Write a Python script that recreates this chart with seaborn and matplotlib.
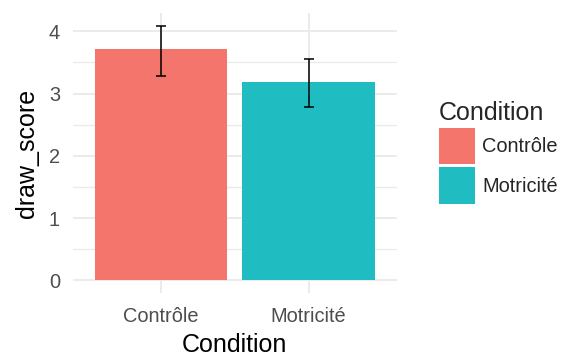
import matplotlib
matplotlib.use("Agg")
import matplotlib.pyplot as plt
from matplotlib.patches import Patch
from matplotlib.ticker import MultipleLocator
import seaborn as sns
import pandas as pd

# Mean drawing score per condition, with the bounds of the error bars
conditions = ["Contrôle", "Motricité"]
mean_score = [3.71, 3.18]
err_low = [3.28, 2.78]
err_high = [4.09, 3.56]
colors = ["#F3756C", "#1FBDC1"]

df = pd.DataFrame({"Condition": conditions, "draw_score": mean_score})

sns.set_theme(style="white")
plt.rcParams["font.family"] = ["Liberation Sans", "DejaVu Sans"]

fig = plt.figure(figsize=(5.65, 3.58), dpi=100)
ax = fig.add_axes([72.5 / 565, 65 / 358, 324.5 / 565, 280 / 358])

sns.barplot(data=df, x="Condition", y="draw_score", hue="Condition",
            palette=colors, width=0.9, errorbar=None, legend=False,
            linewidth=0, saturation=1, ax=ax, zorder=2)

xs = range(len(conditions))
yerr = [[m - lo for m, lo in zip(mean_score, err_low)],
        [hi - m for m, hi in zip(mean_score, err_high)]]
ax.errorbar(xs, mean_score, yerr=yerr, fmt="none", ecolor="black",
            elinewidth=1.1, capsize=3.5, capthick=1.1, zorder=3)

# ggplot-like expansion of the scales
top = max(err_high)
ax.set_ylim(-0.05 * top, top * 1.05)
ax.set_xlim(-0.6, len(conditions) - 0.4)

ax.yaxis.set_major_locator(MultipleLocator(1))
ax.yaxis.set_minor_locator(MultipleLocator(0.5))
ax.grid(True, which="major", color="#EBEBEB", linewidth=1.4, zorder=0)
ax.grid(True, which="minor", axis="y", color="#EBEBEB", linewidth=1.0, zorder=0)
ax.set_axisbelow(True)
for s in ax.spines.values():
    s.set_visible(False)

ax.tick_params(axis="both", which="both", length=0, labelsize=14.4,
               labelcolor="#4D4D4D")
ax.tick_params(axis="y", pad=9)
ax.tick_params(axis="x", pad=10)
ax.set_xlabel("Condition", fontsize=18, color="black", labelpad=5)
ax.set_ylabel("draw_score", fontsize=18, color="black", labelpad=7)

handles = [Patch(facecolor=c, edgecolor="none") for c in colors]
fig.legend(handles, conditions, title="Condition", loc="upper left",
           bbox_to_anchor=(439 / 565, 1 - 101 / 358), frameon=False,
           fontsize=14.4, title_fontsize=18, alignment="left",
           handlelength=1.82, handleheight=2.43, labelspacing=0.15,
           handletextpad=0.35, borderpad=0, borderaxespad=0)

fig.savefig("out.png", dpi=100, facecolor="white")
